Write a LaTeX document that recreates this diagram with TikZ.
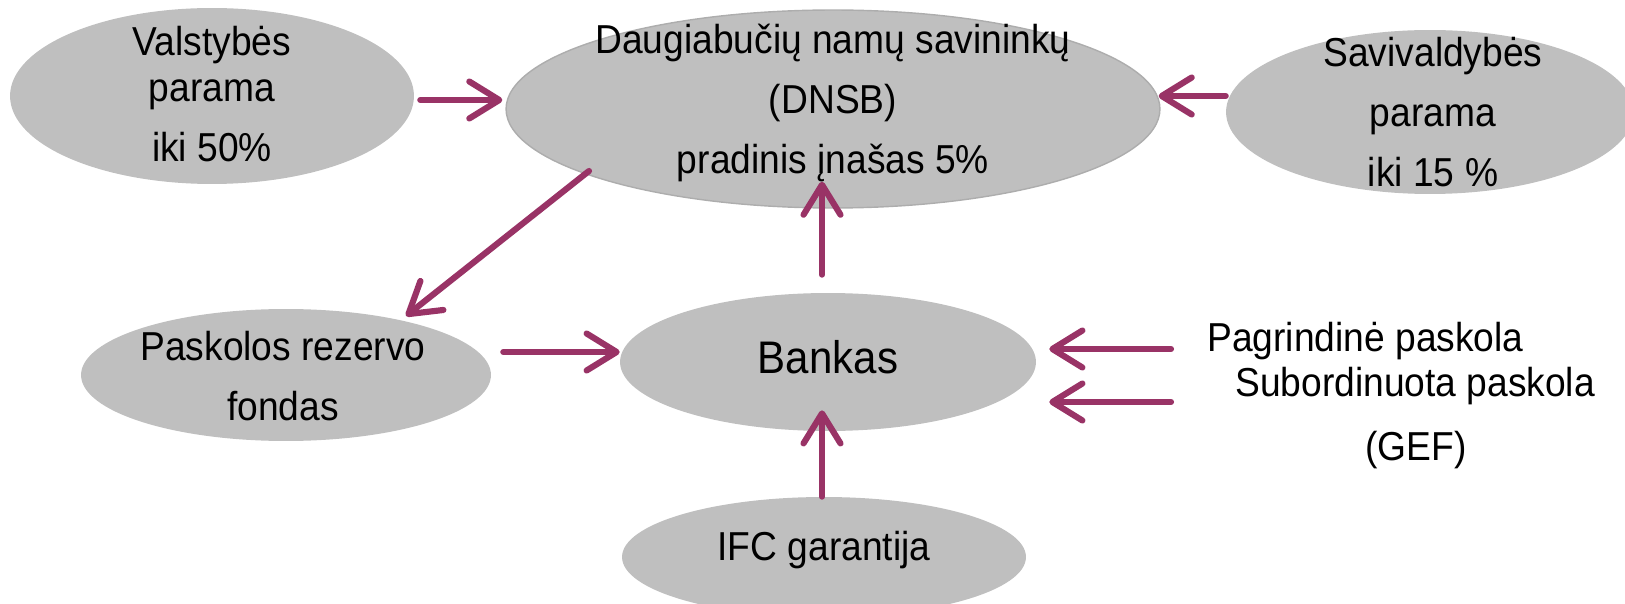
\documentclass[tikz,border=0pt]{standalone}
\usepackage{fontspec}
\setmainfont{Liberation Sans}[FakeStretch=0.92]
\usetikzlibrary{shapes,arrows.meta,calc}
\definecolor{plum}{RGB}{153,51,102}
\definecolor{ovalgrey}{RGB}{191,191,191}
\tikzset{
        textnode/.style={align=center,inner sep=0pt,font=\fontsize{23}{34}\selectfont},
        % Grey ovals
        node_oval/.style={ellipse, fill=ovalgrey, inner sep=0pt},
        % Main oval, thin outline
        node_main/.style={node_oval, draw=black!32, line width=0.8pt},
        % Flow arrows
        edge_flow/.style={-{Straight Barb[length=0.6cm,width=0.74cm,round]}, plum, line width=3.5pt, line cap=round}
}
\begin{document}
\begin{tikzpicture}[x=0.02cm,y=-0.02cm]
            \useasboundingbox (0,0) rectangle (1625,604);
            % ovals
            \node[node_oval, minimum width=8.08cm, minimum height=3.52cm] (valst) at (212,96) {};
            \node[node_main, minimum width=13.08cm, minimum height=3.96cm] (dnsb) at (833,109) {};
            \node[node_oval, minimum width=8.16cm, minimum height=3.28cm] (saviv) at (1430,112) {};
            \node[node_oval, minimum width=8.2cm, minimum height=2.64cm] (pask) at (286,375) {};
            \node[node_oval, minimum width=8.32cm, minimum height=2.76cm] (bank) at (828,362) {};
            \node[node_oval, minimum width=8.08cm, minimum height=2.4cm] (ifc) at (824,557) {};
            % texts
            \node[textnode] (valst_t) at ($(valst.center)+(0,-2)$) {Valstybės\\[-8pt]parama\\iki 50\%};
            \node[textnode] (dnsb_t) at ($(dnsb.center)+(0,-6)$) {Daugiabučių namų savininkų\\(DNSB)\\pradinis įnašas 5\%};
            \node[textnode] (saviv_t) at ($(saviv.center)+(3,0)$) {Savivaldybės\\parama\\iki 15 \%};
            \node[textnode] (pask_t) at ($(pask.center)+(-3,1)$) {Paskolos rezervo\\fondas};
            \node[textnode, font=\fontsize{26}{30}\selectfont] (bank_t) at ($(bank.center)+(0,-5)$) {Bankas};
            \node[textnode] (ifc_t) at ($(ifc.center)+(0,-7)$) {IFC garantija};
            \node[textnode, anchor=west] (pagr) at (1207,341) {Pagrindinė paskola};
            \node[textnode, anchor=west] (subord) at (1235,386) {Subordinuota paskola};
            \node[textnode] (gef) at (1416,450) {(GEF)};
            % arrows
            \draw[edge_flow] ($(valst.east)+(6,4)$) -- ($(dnsb.west)+(-3,-9)$);
            \draw[edge_flow] ($(saviv.west)+(0,-16)$) -- ($(dnsb.east)+(-2,-13)$);
            \draw[edge_flow] ($(dnsb.center)+(-244,62)$) -- ($(pask.center)+(120,-59)$);
            \draw[edge_flow] ($(bank.north)+(-6,-18)$) -- ($(dnsb.south)+(-11,-27)$);
            \draw[edge_flow] ($(pask.east)+(12,-23)$) -- ($(bank.west)+(0,-10)$);
            \draw[edge_flow] ($(pagr.west)+(-36,8)$) -- ($(bank.east)+(13,-13)$);
            \draw[edge_flow] ($(subord.west)+(-64,16)$) -- ($(bank.east)+(13,40)$);
            \draw[edge_flow] ($(ifc.north)+(-2,0)$) -- ($(bank.south)+(-6,-21)$);
\end{tikzpicture}
\end{document}
